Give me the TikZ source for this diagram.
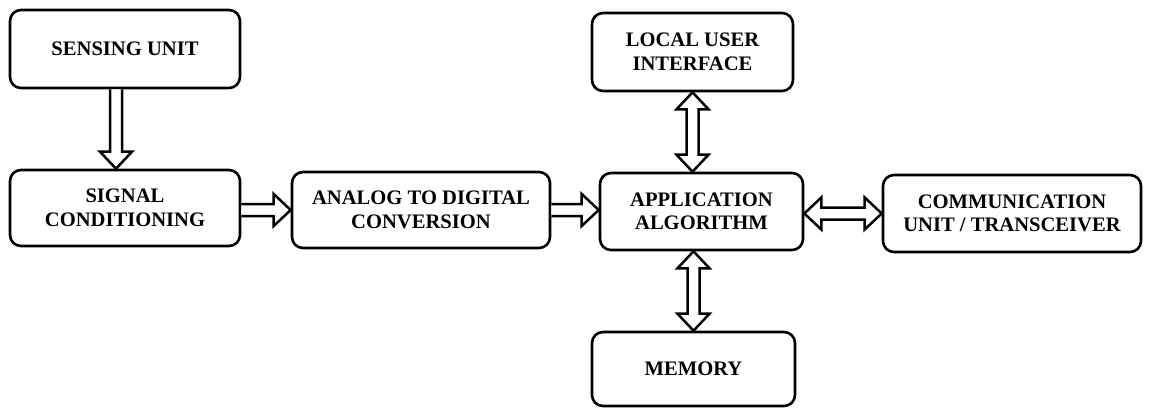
\documentclass[tikz,border=0pt]{standalone}
\usepackage{fontspec}
\setmainfont{Liberation Serif}
\usetikzlibrary{calc}
\def\sw{6pt}
\def\hw{16pt}
\def\hl{17pt}
% single hollow arrow from #1 to #2
\newcommand\onearrow[2]{%
  \draw[fatarrow] ($(#1)!\sw!90:(#2)$) -- ($(#2)!\hl!(#1)!\sw!90:(#2)$) -- ($(#2)!\hl!(#1)!\hw!90:(#2)$) -- (#2)
    -- ($(#2)!\hl!(#1)!\hw!-90:(#2)$) -- ($(#2)!\hl!(#1)!\sw!-90:(#2)$) -- ($(#1)!\sw!-90:(#2)$);}
% double-headed hollow arrow between #1 and #2
\newcommand\twoarrow[2]{%
  \draw[fatarrow] (#1) -- ($(#1)!\hl!(#2)!\hw!90:(#2)$) -- ($(#1)!\hl!(#2)!\sw!90:(#2)$)
    -- ($(#2)!\hl!(#1)!\sw!90:(#2)$) -- ($(#2)!\hl!(#1)!\hw!90:(#2)$) -- (#2)
    -- ($(#2)!\hl!(#1)!\hw!-90:(#2)$) -- ($(#2)!\hl!(#1)!\sw!-90:(#2)$)
    -- ($(#1)!\hl!(#2)!\sw!-90:(#2)$) -- ($(#1)!\hl!(#2)!\hw!-90:(#2)$) -- cycle;}
\begin{document}
\begin{tikzpicture}[x=1pt,y=-1pt,
  box/.style={draw, line width=2.6pt, rounded corners=11pt, align=center,
    font=\fontsize{20.6}{23.5}\selectfont\bfseries, inner sep=0pt},
  fatarrow/.style={draw, line width=2.5pt, line join=miter, fill=white}]
\useasboundingbox (0,0) rectangle (1150,408);
\node[box, minimum width=230pt, minimum height=78pt] (sense) at (125,49) {SENSING UNIT};
\node[box, minimum width=230pt, minimum height=76pt] (signal) at (125,208) {SIGNAL\\CONDITIONING};
\node[box, minimum width=258pt, minimum height=76pt] (adc) at (421,210) {ANALOG TO DIGITAL\\CONVERSION};
\node[box, minimum width=203pt, minimum height=77pt] (app) at (701.5,211.5) {APPLICATION\\ALGORITHM};
\node[box, minimum width=201pt, minimum height=78pt] (lui) at (692.5,52) {LOCAL USER\\INTERFACE};
\node[box, minimum width=203pt, minimum height=74pt] (mem) at (693.5,369) {MEMORY};
\node[box, minimum width=258pt, minimum height=77pt] (comm) at (1012,213.5) {COMMUNICATION\\UNIT / TRANSCEIVER};

\coordinate (s1) at ([xshift=-9pt]sense.south);
\coordinate (s2) at (s1 |- signal.north);
\onearrow{s1}{s2}
\coordinate (c1) at (signal.east |- adc.west);
\onearrow{c1}{adc.west}
\coordinate (c2) at (app.west |- adc.east);
\onearrow{adc.east}{c2}
\coordinate (u1) at (lui.south |- app.north);
\twoarrow{lui.south}{u1}
\coordinate (m1) at (mem.north |- app.south);
\twoarrow{m1}{mem.north}
\coordinate (k1) at (app.east |- comm.west);
\twoarrow{k1}{comm.west}
\end{tikzpicture}
\end{document}
